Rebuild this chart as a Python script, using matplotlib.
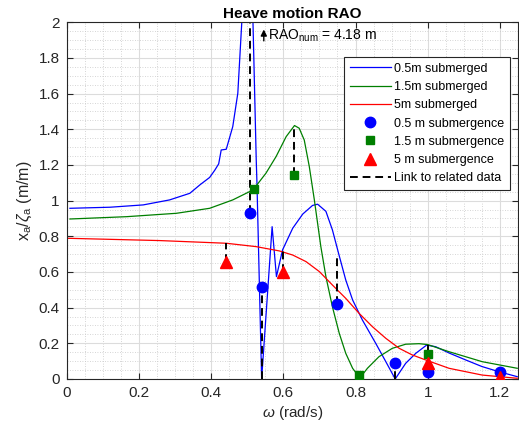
import numpy as np
import matplotlib.pyplot as plt
from matplotlib.ticker import MultipleLocator

plt.rcParams['font.family'] = ['Liberation Sans', 'DejaVu Sans']
plt.rcParams['mathtext.fontset'] = 'custom'
plt.rcParams['mathtext.rm'] = 'Liberation Sans'
plt.rcParams['mathtext.it'] = 'Liberation Sans:italic'

# numerical RAO curves
w_05 = [0.009, 0.12, 0.212, 0.285, 0.341, 0.37, 0.396, 0.41, 0.421, 0.428, 0.442, 0.46,
        0.474, 0.485, 0.496, 0.505, 0.512, 0.516, 0.525, 0.527, 0.54, 0.569, 0.581,
        0.598, 0.626, 0.654, 0.681, 0.695, 0.718, 0.736, 0.755, 0.773, 0.792, 0.819,
        0.856, 0.884, 0.91, 0.939, 0.967, 0.997, 1.022, 1.06, 1.105, 1.15, 1.197, 1.248]
rao_05 = [0.957, 0.963, 0.976, 1.004, 1.041, 1.09, 1.13, 1.17, 1.206, 1.284, 1.288, 1.415,
          1.602, 2.0, 3.0, 4.18, 3.0, 2.0, 1.23, 1.1, 0.0, 0.854, 0.574,
          0.724, 0.845, 0.925, 0.973, 0.98, 0.94, 0.836, 0.69, 0.555, 0.443, 0.331,
          0.2, 0.097, 0.0, 0.088, 0.144, 0.19, 0.181, 0.145, 0.107, 0.07, 0.041, 0.013]

w_15 = [0.009, 0.166, 0.304, 0.396, 0.46, 0.506, 0.52, 0.552, 0.58, 0.608, 0.631, 0.644,
        0.658, 0.672, 0.686, 0.704, 0.718, 0.736, 0.755, 0.773, 0.792, 0.806, 0.81,
        0.833, 0.865, 0.902, 0.939, 0.976, 1.0, 1.059, 1.151, 1.248]
rao_15 = [0.897, 0.91, 0.929, 0.957, 1.004, 1.05, 1.07, 1.154, 1.247, 1.359, 1.421, 1.406,
          1.34, 1.191, 1.004, 0.742, 0.574, 0.405, 0.256, 0.144, 0.06, 0.022, 0.0,
          0.06, 0.125, 0.172, 0.195, 0.198, 0.193, 0.153, 0.097, 0.06]

w_5 = [0.0, 0.258, 0.442, 0.525, 0.589, 0.626, 0.663, 0.70, 0.736, 0.773, 0.81, 0.847,
       0.884, 0.921, 0.957, 0.994, 1.059, 1.151, 1.248]
rao_5 = [0.789, 0.776, 0.761, 0.742, 0.718, 0.695, 0.658, 0.602, 0.527, 0.452, 0.368,
         0.293, 0.228, 0.172, 0.135, 0.107, 0.06, 0.022, 0.004]

# experimental points
exp_w_05 = [0.509, 0.54, 0.75, 0.91, 1.0, 1.2]
exp_rao_05 = [0.93, 0.516, 0.419, 0.091, 0.041, 0.037]
exp_w_15 = [0.52, 0.631, 0.81, 1.0]
exp_rao_15 = [1.064, 1.144, 0.02, 0.138]
exp_w_5 = [0.44, 0.60, 1.0, 1.2]
exp_rao_5 = [0.658, 0.60, 0.09, 0.01]

# links between measured point and numerical value
link_w = [0.44, 0.509, 0.54, 0.60, 0.631, 0.75, 0.91, 1.0, 1.0, 1.0]
link_lo = [0.658, 0.93, 0.0, 0.60, 1.144, 0.419, 0.0, 0.041, 0.138, 0.09]
link_hi = [0.76, 4.18, 0.516, 0.72, 1.425, 0.695, 0.091, 0.19, 0.19, 0.116]

rao_num_peak = 4.18
peak_w = 0.546

fig = plt.figure(figsize=(5.19, 4.28), dpi=100)
ax = fig.add_axes([0.1285, 0.1145, 0.8695, 0.8335])

ax.plot(w_05, rao_05, color='#0000ff', lw=0.9, label='0.5m submerged')
ax.plot(w_15, rao_15, color='#007f00', lw=0.9, label='1.5m submerged')
ax.plot(w_5, rao_5, color='#ff0000', lw=0.9, label='5m submerged')

for i in range(len(link_w)):
    ax.plot([link_w[i], link_w[i]], [link_lo[i], link_hi[i]], color='k', lw=1.4,
            dashes=(4, 2.5), zorder=2)

ax.plot(exp_w_05, exp_rao_05, 'o', color='#0000ff', ms=7.5, label='0.5 m submergence', zorder=4)
ax.plot(exp_w_15, exp_rao_15, 's', color='#007f00', ms=5.5, label='1.5 m submergence', zorder=4)
ax.plot(exp_w_5, exp_rao_5, '^', color='#ff0000', ms=8, label='5 m submergence', zorder=4)
ax.plot([], [], color='k', lw=1.4, dashes=(4, 2.5), label='Link to related data')

ax.annotate('', xy=(peak_w, 1.975), xytext=(peak_w, 1.88),
            arrowprops=dict(arrowstyle='-|>', color='k', lw=1.0, mutation_scale=9))
ax.text(peak_w + 0.012, 1.925, r'RAO$_{\mathrm{num}}$ = %.2f m' % rao_num_peak,
        fontsize=10, va='center', ha='left')

ax.set_xlim(0, 1.25)
ax.set_ylim(0, 2)
ax.xaxis.set_minor_locator(MultipleLocator(0.05))
ax.yaxis.set_minor_locator(MultipleLocator(0.05))
ax.set_xticks([0, 0.2, 0.4, 0.6, 0.8, 1.0, 1.2])
ax.set_xticklabels(['0', '0.2', '0.4', '0.6', '0.8', '1', '1.2'])
ax.set_yticks([0, 0.2, 0.4, 0.6, 0.8, 1.0, 1.2, 1.4, 1.6, 1.8, 2.0])
ax.set_yticklabels(['0', '0.2', '0.4', '0.6', '0.8', '1', '1.2', '1.4', '1.6', '1.8', '2'])
ax.grid(which='major', color='#dcdcdc', lw=0.8)
ax.grid(which='minor', color='#c8c8c8', lw=0.6, ls=(0, (1, 2)))
ax.set_axisbelow(True)
ax.tick_params(which='both', direction='in', top=True, right=True, colors='#262626',
               labelsize=11)
ax.tick_params(which='major', length=4, pad=5)
ax.tick_params(which='minor', length=0)
for s in ax.spines.values():
    s.set_color('#262626')
    s.set_linewidth(0.8)

ax.set_title('Heave motion RAO', fontsize=11, fontweight='bold', pad=3)
ax.set_xlabel(r'$\omega$ (rad/s)', fontsize=11, color='#262626', labelpad=3)
ax.set_ylabel(r'x$_\mathrm{a}$/$\zeta_\mathrm{a}$ (m/m)', fontsize=11.5, color='#262626', labelpad=3)

leg = ax.legend(loc='upper right', bbox_to_anchor=(0.982, 0.902), fontsize=9,
                frameon=True, fancybox=False, edgecolor='#262626', framealpha=1,
                borderpad=0.45, labelspacing=0.5, handlelength=3.3, handletextpad=0.25,
                borderaxespad=0)
leg.get_frame().set_linewidth(0.8)

fig.savefig('out.png', dpi=100)
